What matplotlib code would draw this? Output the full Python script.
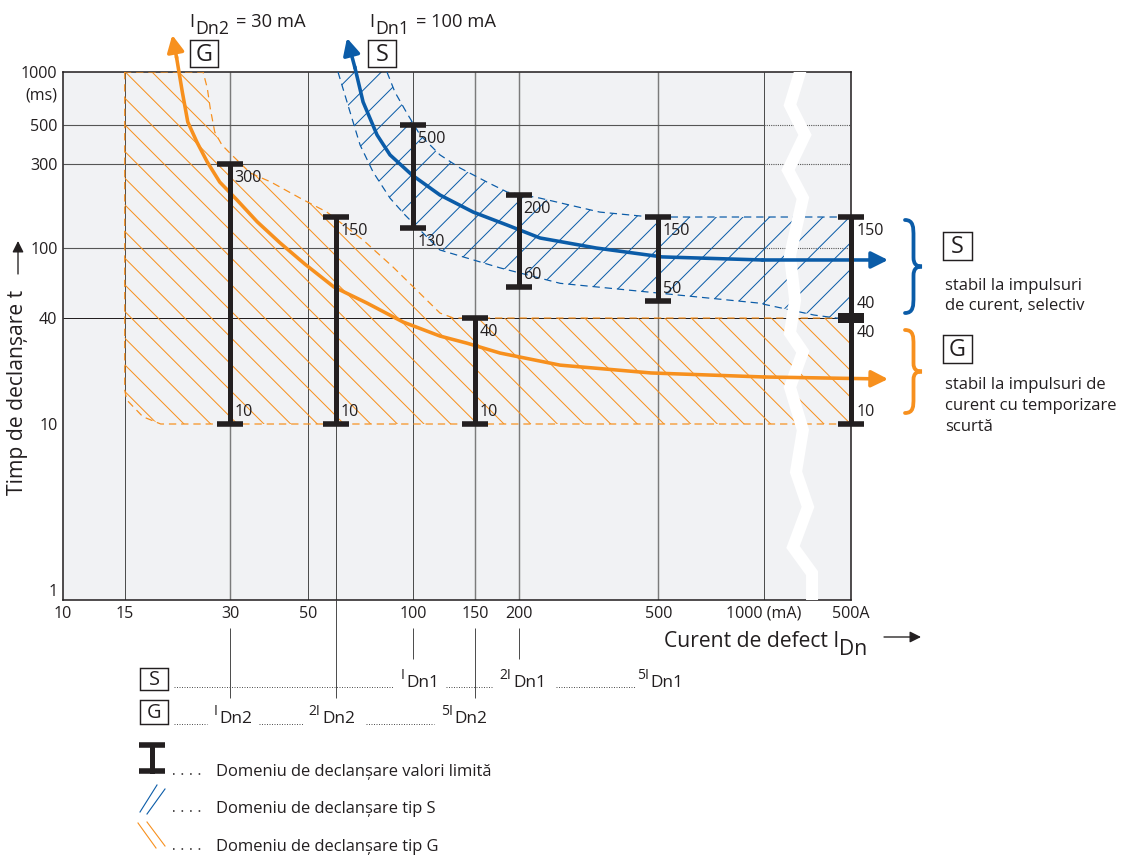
import numpy as np
import matplotlib.pyplot as plt
from matplotlib.patches import Rectangle, PathPatch
from matplotlib.path import Path

plt.rcParams['font.family'] = ['Open Sans', 'DejaVu Sans']
plt.rcParams['hatch.linewidth'] = 0.9

orange = '#f7901e'
blue = '#0b5ca8'
black = '#231f20'

# axes (log-log), 500 A sits at the right edge after the break
x_end = 1771
x_ticks = [10, 15, 30, 50, 100, 150, 200, 500, 1000, x_end]
x_ticklabels = ['10', '15', '30', '50', '100', '150', '200', '500', '1000 (mA)', '500A']
y_ticks = [1, 10, 40, 100, 300, 500, 1000]
v_grid_dark = [15, 50, 100, 1000]
v_grid_grey = [30, 150, 200, 500]
h_grid = [100, 300, 500]

# limit value bars (mA, ms)
bar_x = [30, 60, 150, 100, 200, 500]
bar_lo = [10, 10, 10, 130, 60, 50]
bar_hi = [300, 150, 40, 500, 200, 150]
lo_label_below = [False, False, False, True, False, False]
right_bar = [10, 40, 150]

# type G tripping area
g_x = [15, 15, 15.2, 16.9, 19, x_end, x_end, 130, 119, 102, 87.4, 71.8, 56.6, 47.5,
       39.2, 34.2, 29.9, 28.4, 27.1, 26.3, 25.8, 25.1, 15]
g_y = [1000, 15.6, 13.7, 11, 10, 10, 40, 40, 42.7, 57.7, 78, 111, 160, 192,
       237, 267, 347, 385, 456, 624, 811, 1000, 1000]

# type S tripping area (lower and upper limit)
s_lo_x = [60.9, 65.9, 70.4, 76.7, 85.7, 94.6, 119, 177, 262, 476, 961, 1389, x_end]
s_lo_y = [1000, 593, 385, 270, 192, 154, 97.4, 77, 63, 56, 48.7, 41.6, 39]
s_hi_x = [84, 88.5, 95.7, 104.4, 119, 135.7, 162, 185, 229.6, 340, 476, x_end]
s_hi_y = [1000, 769, 585, 439, 338, 285, 237, 208, 192, 160, 150, 150]

# tripping curves (first and last point are arrow tips)
g_curve_x = [20.5, 21.1, 21.9, 22.7, 24.1, 25.8, 28.0, 31.4, 35.8, 41.6, 49.0, 59.3,
             73.6, 93.3, 119, 142, 176.6, 262, 476, 1000, 2259]
g_curve_y = [1622, 1201, 769, 520, 400, 308, 237, 187, 141, 107, 81, 60,
             48.7, 38, 31.6, 28.8, 25.3, 21.6, 19.5, 18.5, 18.0]
s_curve_x = [64.6, 68.1, 71.8, 78.7, 85.7, 99, 119, 148, 185, 229.6, 332, 512, 987, 2259]
s_curve_y = [1560, 1054, 676, 439, 338, 260, 200, 160, 135, 114, 100, 89, 85.5, 85.5]

# axis break
brk_x = [1267, 1186, 1309, 1171, 1291, 1186, 1227, 1186, 1291, 1186, 1291, 1234,
         1335, 1210, 1371, 1371]
brk_y = [1000, 649, 439, 277, 192, 90, 50.7, 32.9, 25.7, 16.2, 9.25, 5.34,
         3.38, 2.0, 1.42, 1]

fs_tick = 14.5
fs_text = 15

fig = plt.figure(figsize=(1121 / 80, 856 / 80), dpi=80)
ax = fig.add_axes([63 / 1121, 1 - 600 / 856, 788 / 1121, 528 / 856])
ax.set_facecolor('#f1f2f4')
ax.set_xscale('log')
ax.set_yscale('log')
ax.set_xlim(10, x_end)
ax.set_ylim(1, 1000)
ax.xaxis.set_minor_locator(plt.NullLocator())
ax.yaxis.set_minor_locator(plt.NullLocator())
ax.set_xticks(x_ticks, x_ticklabels)
ax.set_yticks(y_ticks, [str(v) for v in y_ticks])
ax.tick_params(length=0, labelsize=fs_tick, colors=black)
ax.tick_params(axis='x', pad=5)
ax.tick_params(axis='y', pad=5)
ax.get_yticklabels()[0].set_va('bottom')   # keep "1" clear of the "10" below it
for s in ax.spines.values():
    s.set_color(black)
    s.set_linewidth(1.4)

# grid
ax.vlines(v_grid_dark, 1, 1000, color='#3a3a3a', lw=0.8, zorder=1)
ax.vlines(v_grid_grey, 1, 1000, color='#7b7b7b', lw=1.3, zorder=1)
ax.hlines(h_grid, 10, 1000, color='#555555', lw=1.0, zorder=1)
ax.hlines(h_grid, 1000, x_end, color='#555555', lw=1.0, linestyles=(0, (1, 1)), zorder=1)
ax.hlines(40, 10, x_end, color=black, lw=0.9, zorder=1)
ax.vlines(60, 1, 10, color='#3a3a3a', lw=0.8, zorder=1)

# hatched areas
ax.fill(g_x, g_y, facecolor='none', edgecolor=orange, hatch='\\', lw=0, zorder=2)
ax.plot(g_x, g_y, color=orange, lw=1.1, ls=(0, (6, 4)), zorder=3)
ax.fill(s_lo_x + s_hi_x[::-1], s_lo_y + s_hi_y[::-1], facecolor='none',
        edgecolor=blue, hatch='/', lw=0, zorder=2)
ax.plot(s_lo_x, s_lo_y, color=blue, lw=1.1, ls=(0, (6, 4)), zorder=3)
ax.plot(s_hi_x, s_hi_y, color=blue, lw=1.1, ls=(0, (6, 4)), zorder=3)

# break
ax.plot(brk_x, brk_y, color='white', lw=10.8, solid_joinstyle='miter', zorder=4)

# curves with arrow heads
for cx, cy, col in [(g_curve_x, g_curve_y, orange), (s_curve_x, s_curve_y, blue)]:
    ax.plot(cx[1:-1], cy[1:-1], color=col, lw=3.2, zorder=5, clip_on=False,
            solid_joinstyle='round')
    for tip, base in [(0, 1), (-1, -2)]:
        ax.annotate('', xy=(cx[tip], cy[tip]), xytext=(cx[base], cy[base]),
                    arrowprops=dict(arrowstyle='-|>,head_length=0.9,head_width=0.45',
                                    mutation_scale=14, color=col, lw=3.2,
                                    shrinkA=0, shrinkB=0),
                    annotation_clip=False, zorder=5)

# limit bars
lo = np.array(bar_lo)
hi = np.array(bar_hi)
ax.errorbar(bar_x, lo, yerr=[np.zeros(len(lo)), hi - lo], fmt='none', ecolor=black,
            elinewidth=4.5, capsize=11.5, capthick=5, zorder=6)
for x, l, h, below in zip(bar_x, bar_lo, bar_hi, lo_label_below):
    ax.annotate(str(h), (x, h), xytext=(4, -5), textcoords='offset points',
                ha='left', va='top', fontsize=fs_tick, color=black, zorder=7)
    ax.annotate(str(l), (x, l), xytext=(4, -5 if below else 4), textcoords='offset points',
                ha='left', va='top' if below else 'bottom', fontsize=fs_tick, color=black,
                zorder=7)

ax.vlines(x_end, right_bar[0], right_bar[-1], color=black, lw=4.5, zorder=6, clip_on=False)
ax.plot([x_end, x_end], [right_bar[0], right_bar[-1]], ls='none', marker='_', ms=23,
        mew=5, color=black, clip_on=False, zorder=6)
ax.plot([x_end], [right_bar[1]], ls='none', marker='_', ms=23, mew=9, color=black,
        clip_on=False, zorder=6)
for v, dy, va in [(right_bar[2], -5, 'top'), (right_bar[1], 5, 'bottom'),
                  (right_bar[1], -6, 'top'), (right_bar[0], 4, 'bottom')]:
    ax.annotate(str(v), (x_end, v), xytext=(5, dy), textcoords='offset points',
                ha='left', va=va, fontsize=fs_tick, color=black, annotation_clip=False)

# below-axis guide lines
xt = ax.get_xaxis_transform()
ax.vlines([30, 150], -0.186, -0.053, transform=xt, color='#3a3a3a', lw=0.8, clip_on=False)
ax.vlines([100, 200], -0.112, -0.053, transform=xt, color='#3a3a3a', lw=0.8, clip_on=False)
ax.vlines(60, -0.186, 0, transform=xt, color='#3a3a3a', lw=0.8, clip_on=False)

# overlay in pixel coordinates for annotations
ov = fig.add_axes([0, 0, 1, 1])
ov.set_xlim(0, 1121)
ov.set_ylim(856, 0)
ov.axis('off')


def boxed(x0, y0, w, h, letter, fs):
    ov.add_patch(Rectangle((x0, y0), w, h, fill=False, ec=black, lw=1.3))
    ov.text(x0 + w / 2, y0 + h / 2 + 1, letter, ha='center', va='center', fontsize=fs, color=black)


def after(prev, txt, fs, dy, dx=0):
    # text continuing right after the previous one, shifted by dy points
    return ov.annotate(txt, xy=(1, 0), xycoords=prev, xytext=(dx, dy),
                       textcoords='offset points', ha='left', va='bottom',
                       fontsize=fs, color=black)


def brace(x0, y_top, y_bot, w, col):
    h = y_bot - y_top
    ym = (y_top + y_bot) / 2
    xm = x0 + 0.5 * w
    verts = [(x0, y_top), (xm, y_top), (xm, y_top + 0.08 * h), (xm, y_top + 0.18 * h),
             (xm, ym - 0.1 * h),
             (xm, ym - 0.02 * h), (x0 + 0.7 * w, ym), (x0 + w, ym),
             (x0 + 0.7 * w, ym), (xm, ym + 0.02 * h), (xm, ym + 0.1 * h),
             (xm, y_bot - 0.18 * h),
             (xm, y_bot - 0.08 * h), (xm, y_bot), (x0, y_bot)]
    codes = [Path.MOVETO] + [Path.CURVE4] * 3 + [Path.LINETO] + [Path.CURVE4] * 6 + \
            [Path.LINETO] + [Path.CURVE4] * 3
    ov.add_patch(PathPatch(Path(verts, codes), fill=False, ec=col, lw=3.4, capstyle='round'))


# top labels
t = ov.text(189, 27, 'I', fontsize=16.5, color=black)
t = after(t, 'Dn2', 16, -6, 1)
after(t, '= 30 mA', 16.5, 6, 6)
boxed(190, 40, 28, 27, 'G', 21)
t = ov.text(369, 27, 'I', fontsize=16.5, color=black)
t = after(t, 'Dn1', 16, -6, 1)
after(t, '= 100 mA', 16.5, 6, 6)
boxed(368, 40, 28, 27, 'S', 21)

# axis titles
ov.text(18, 392, 'Timp de declanșare t', rotation=90, ha='center', va='center',
        fontsize=19, color=black)
ov.annotate('', xy=(18, 241), xytext=(18, 274),
            arrowprops=dict(arrowstyle='-|>,head_length=0.6,head_width=0.3', lw=1.2,
                            color=black, mutation_scale=14, shrinkA=0, shrinkB=0))
ov.text(57, 95, '(ms)', ha='right', va='center', fontsize=fs_tick, color=black)
t = ov.text(664, 647, 'Curent de defect I', fontsize=19, color=black)
after(t, 'Dn', 19, -7)
ov.annotate('', xy=(921, 637), xytext=(884, 637),
            arrowprops=dict(arrowstyle='-|>,head_length=0.6,head_width=0.3', lw=1.2,
                            color=black, mutation_scale=14, shrinkA=0, shrinkB=0))

# right side explanation
brace(905, 220, 313, 17, blue)
brace(905, 330, 413, 17, orange)
boxed(943, 232, 29, 28, 'S', 21)
boxed(943, 335, 29, 28, 'G', 21)
ov.text(945, 290, 'stabil la impulsuri', fontsize=fs_text, color=black)
ov.text(945, 310, 'de curent, selectiv', fontsize=fs_text, color=black)
ov.text(945, 389, 'stabil la impulsuri de', fontsize=fs_text, color=black)
ov.text(945, 410, 'curent cu temporizare', fontsize=fs_text, color=black)
ov.text(945, 431, 'scurtă', fontsize=fs_text, color=black)

# multiples of the rated current
dot = dict(color='#555555', lw=0.9, ls=(0, (1, 1.5)))
boxed(140, 668, 28, 22, 'S', 18)
boxed(140, 700, 28, 24, 'G', 18)
for x0, x1 in [(174, 393), (446, 492), (556, 636)]:
    ov.plot([x0, x1], [687, 687], **dot)
for x0, x1 in [(174, 207), (259, 303), (366, 434)]:
    ov.plot([x0, x1], [724, 724], **dot)
for xm, xs, m, sub, yb in [(401, 406, 'I', 'Dn1', 687), (499, 513, '2I', 'Dn1', 687),
                          (637, 650, '5I', 'Dn1', 687), (214, 219, 'I', 'Dn2', 723),
                          (308, 322, '2I', 'Dn2', 723), (441, 454, '5I', 'Dn2', 723)]:
    ov.text(xm, yb - 8, m, fontsize=12.5, color=black)
    ov.text(xs, yb, sub, fontsize=15.5, color=black)

# legend
ov.plot([152, 152], [745, 771], color=black, lw=4.5)
ov.plot([152, 152], [745, 771], ls='none', marker='_', ms=23, mew=5, color=black)
ov.plot([140, 157], [812, 785], color=blue, lw=1.0)
ov.plot([147, 165], [814, 789], color=blue, lw=1.0)
ov.plot([138, 156], [823, 848], color=orange, lw=1.0)
ov.plot([147, 165], [822, 846], color=orange, lw=1.0)
for yb, txt in [(776, 'Domeniu de declanșare valori limită'),
                (813, 'Domeniu de declanșare tip S'),
                (851, 'Domeniu de declanșare tip G')]:
    ov.plot([173, 207], [yb - 2, yb - 2], color=black, lw=1.4, ls=(0, (1, 4.5)))
    ov.text(216, yb, txt, fontsize=14.8, color=black)

fig.savefig('out.png', dpi=80)
